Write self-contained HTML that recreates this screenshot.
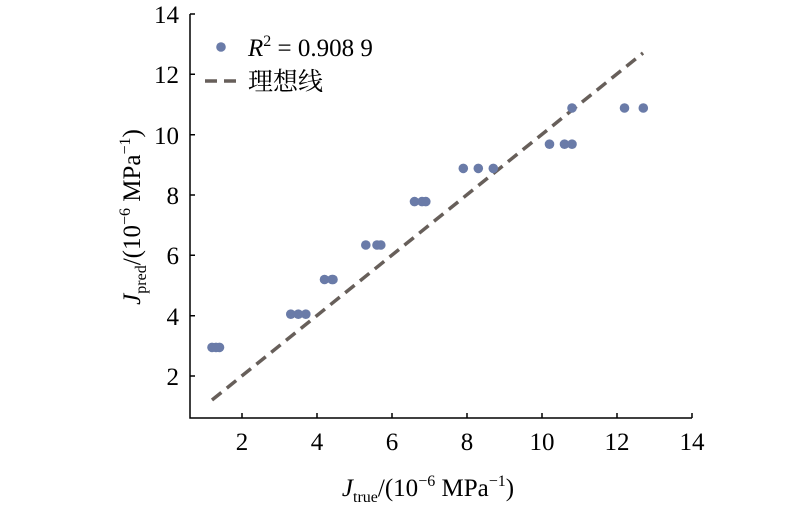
<!DOCTYPE html>
<html><head><meta charset="utf-8"><style>body{margin:0;background:#fff}svg{display:block}</style></head><body>
<svg width="800" height="508" xmlns="http://www.w3.org/2000/svg" font-family="Liberation Serif, serif">
<g stroke="#000" stroke-width="1.5" fill="none">
<path d="M190,14 V418 H692"/>
<path d="M242,418v-5M317,418v-5M392,418v-5M467,418v-5M542,418v-5M617,418v-5M692,418v-5"/>
<path d="M190,376h5M190,315.7h5M190,255.3h5M190,195h5M190,134.7h5M190,74.3h5M190,14h5"/>
</g>
<g font-size="25" text-anchor="middle" fill="#000">
<text x="242" y="450">2</text><text x="317" y="450">4</text><text x="392" y="450">6</text><text x="467" y="450">8</text><text x="542" y="450">10</text><text x="617" y="450">12</text><text x="692" y="450">14</text>
</g>
<g font-size="25" text-anchor="end" fill="#000">
<text x="179" y="385">2</text><text x="179" y="325">4</text><text x="179" y="264">6</text><text x="179" y="204">8</text><text x="179" y="144">10</text><text x="179" y="83">12</text><text x="179" y="23">14</text>
</g>
<line x1="212" y1="400" x2="643" y2="53" stroke="#675f5a" stroke-width="3.5" stroke-dasharray="12,7"/>
<g fill="#6a7ba8">
<circle cx="212" cy="347.4" r="4.8"/><circle cx="216" cy="347.4" r="4.8"/><circle cx="219.5" cy="347.4" r="4.8"/>
<circle cx="290.8" cy="314.2" r="4.8"/><circle cx="298.3" cy="314.2" r="4.8"/><circle cx="305.8" cy="314.2" r="4.8"/>
<circle cx="324.5" cy="279.5" r="4.8"/><circle cx="332" cy="279.5" r="4.8"/><circle cx="333" cy="279.5" r="4.8"/>
<circle cx="365.8" cy="245" r="4.8"/><circle cx="377" cy="245" r="4.8"/><circle cx="380.8" cy="245" r="4.8"/>
<circle cx="414.5" cy="201.6" r="4.8"/><circle cx="422" cy="201.6" r="4.8"/><circle cx="425.8" cy="201.6" r="4.8"/>
<circle cx="463.3" cy="168.4" r="4.8"/><circle cx="478.3" cy="168.4" r="4.8"/><circle cx="493.3" cy="168.4" r="4.8"/>
<circle cx="549.5" cy="144.2" r="4.8"/><circle cx="564.5" cy="144.2" r="4.8"/><circle cx="572" cy="144.2" r="4.8"/>
<circle cx="572" cy="108" r="4.8"/><circle cx="624.5" cy="108" r="4.8"/><circle cx="643.3" cy="108" r="4.8"/>
</g>
<circle cx="221" cy="47" r="4.8" fill="#6a7ba8"/>
<text x="248" y="56" font-size="25"><tspan font-style="italic">R</tspan><tspan font-size="16" dy="-10">2</tspan><tspan dy="10"> = 0.908 9</tspan></text>
<line x1="205" y1="81" x2="242" y2="81" stroke="#675f5a" stroke-width="3.5" stroke-dasharray="12,7"/>
<text x="248" y="90" font-size="25" font-family="Noto Serif CJK SC, serif">理想线</text>
<text x="428" y="496" font-size="25" text-anchor="middle"><tspan font-style="italic">J</tspan><tspan font-size="16" dy="6">true</tspan><tspan dy="-6">/(10</tspan><tspan font-size="16" dy="-10">−6</tspan><tspan dy="10"> MPa</tspan><tspan font-size="16" dy="-10">−1</tspan><tspan dy="10">)</tspan></text>
<text transform="translate(140,217) rotate(-90)" font-size="25" text-anchor="middle"><tspan font-style="italic">J</tspan><tspan font-size="16" dy="6">pred</tspan><tspan dy="-6">/(10</tspan><tspan font-size="16" dy="-10">−6</tspan><tspan dy="10"> MPa</tspan><tspan font-size="16" dy="-10">−1</tspan><tspan dy="10">)</tspan></text>
</svg>
</body></html>
